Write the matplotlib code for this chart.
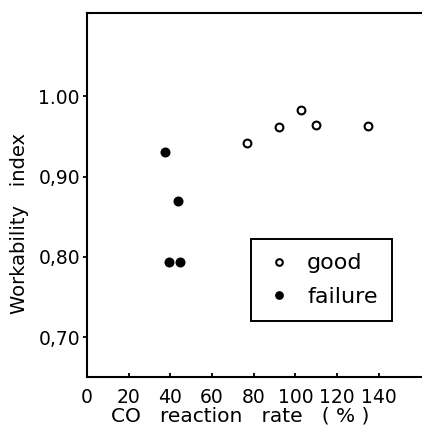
import matplotlib
matplotlib.use("Agg")
import matplotlib.pyplot as plt

# CO reaction rate (%) and workability index
good_rate = [77.0, 92.2, 102.7, 109.7, 135.0]
good_index = [0.942, 0.962, 0.983, 0.965, 0.963]

fail_rate = [37.3, 43.9, 39.5, 44.7]
fail_index = [0.931, 0.870, 0.793, 0.793]

x_ticks = [0, 20, 40, 60, 80, 100, 120, 140]
y_ticks = [0.70, 0.80, 0.90, 1.00]
y_tick_labels = ["0,70", "0,80", "0,90", "1.00"]

plt.rcParams["font.family"] = ["DejaVu Sans"]

fig = plt.figure(figsize=(4.22, 4.34), dpi=100)
ax = fig.add_axes([0.206, 0.131, 0.80, 0.839])

ax.plot(good_rate, good_index, "o", ms=5.6, mfc="white", mec="black", mew=1.5,
        label="good", linestyle="none")
ax.plot(fail_rate, fail_index, "o", ms=6.2, mfc="black", mec="black",
        label="failure", linestyle="none")

ax.set_xlim(0, 162)
ax.set_ylim(0.65, 1.104)

ax.set_xticks(x_ticks)
ax.set_yticks(y_ticks)
ax.set_yticklabels(y_tick_labels)

ax.tick_params(axis="x", direction="in", length=3, width=1.3, labelsize=13.5, pad=8)
ax.tick_params(axis="y", direction="out", length=3, width=1.3, labelsize=13.5, pad=2)

for s in ["left", "bottom", "top"]:
    ax.spines[s].set_linewidth(1.5)
ax.spines["right"].set_visible(False)

ax.set_xlabel("CO   reaction   rate   ( % )", fontsize=14.5)
ax.xaxis.set_label_coords(0.453, -0.08)
ax.set_ylabel("Workability   index", fontsize=14)
ax.yaxis.set_label_coords(-0.172, 0.423)

leg = ax.legend(loc="lower left", bbox_to_anchor=(0.486, 0.154), borderaxespad=0,
                fancybox=False, edgecolor="black", framealpha=1, fontsize=16,
                handletextpad=0.6, labelspacing=0.62, borderpad=0.63,
                handlelength=1.3, markerscale=0.85)
leg.get_frame().set_linewidth(1.4)

fig.savefig("out.png", dpi=100)
